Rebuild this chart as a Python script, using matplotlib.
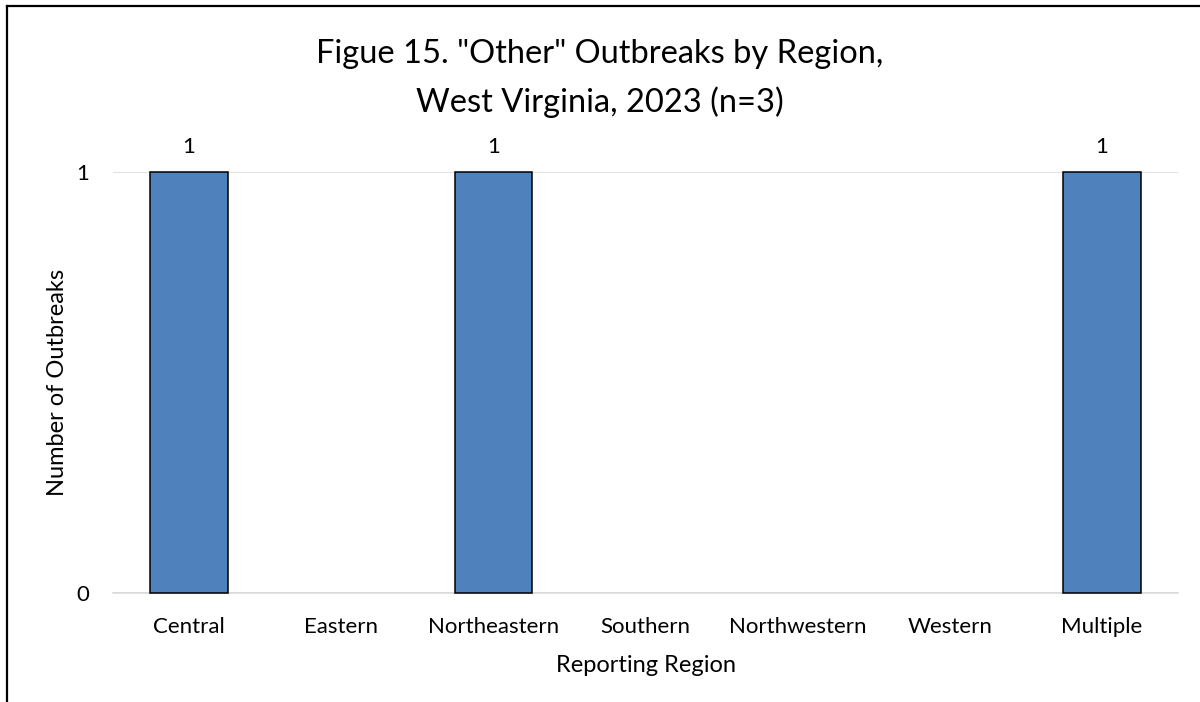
import matplotlib.pyplot as plt
from matplotlib.lines import Line2D

regions = ['Central', 'Eastern', 'Northeastern', 'Southern', 'Northwestern', 'Western', 'Multiple']
outbreaks = [1, 0, 1, 0, 0, 0, 1]

plt.rcParams['font.family'] = ['Lato', 'DejaVu Sans']

fig = plt.figure(figsize=(12, 7.02), dpi=100)
ax = fig.add_axes([0.0942, 0.1553, 0.8875, 0.5997])

x = range(len(regions))
bars = ax.bar(x, outbreaks, width=0.51, color='#4f81bd', edgecolor='black',
              linewidth=1.1, zorder=3, clip_on=False)
# excel draws nothing for zero-height bars
for b, v in zip(bars, outbreaks):
    if v == 0:
        b.set_linewidth(0)
for xi, v in zip(x, outbreaks):
    if v > 0:
        ax.text(xi, v + 0.035, str(v), ha='center', va='bottom', fontsize=16)

ax.set_xlim(-0.5, len(regions) - 0.5)
ax.set_ylim(0, 1)
ax.set_yticks([0, 1])
ax.set_xticks(list(x))
ax.set_xticklabels(regions)
ax.tick_params(axis='both', length=0, labelsize=16)
ax.tick_params(axis='y', pad=17)
ax.tick_params(axis='x', pad=17)
ax.grid(axis='y', color='#d9d9d9', linewidth=1.1, zorder=0)
for s in ['top', 'right', 'left']:
    ax.spines[s].set_visible(False)
ax.spines['bottom'].set_color('#d9d9d9')
ax.spines['bottom'].set_linewidth(1.1)

ax.set_xlabel('Reporting Region', fontsize=17, va='baseline')
ax.xaxis.set_label_coords(0.5, -0.1876)
ax.set_ylabel('Number of Outbreaks', fontsize=17, va='center')
ax.yaxis.set_label_coords(-0.0526, 0.5)

fig.text(0.5, 0.9103, 'Figue 15. "Other" Outbreaks by Region,', ha='center', va='baseline', fontsize=23.5)
fig.text(0.5, 0.8405, 'West Virginia, 2023 (n=3)', ha='center', va='baseline', fontsize=23.5)

# partial frame: left and top edges
fig.add_artist(Line2D([0.0055, 0.0055], [0, 0.9915], color='black', linewidth=1.6, transform=fig.transFigure))
fig.add_artist(Line2D([0.0055, 1], [0.9915, 0.9915], color='black', linewidth=1.6, transform=fig.transFigure))

fig.savefig('out.png', dpi=100)
